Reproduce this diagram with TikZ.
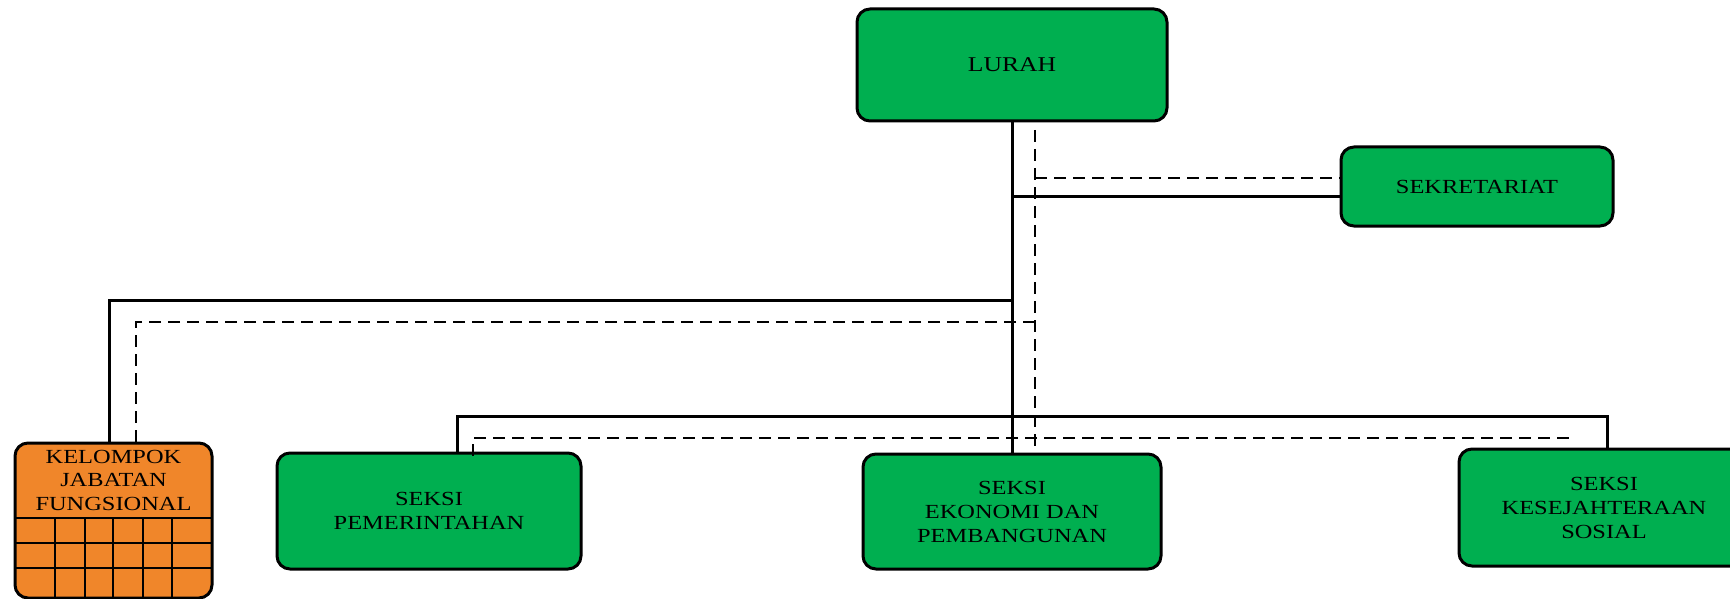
\documentclass[tikz,border=0pt]{standalone}
\usepackage{fontspec}
\setmainfont{Liberation Serif}[FakeStretch=1.22]
\definecolor{boxgreen}{RGB}{0,175,80}
\definecolor{boxorange}{RGB}{240,134,42}
\tikzset{
  unitbox/.style={draw=black, line width=3pt, rounded corners=13pt, fill=boxgreen,
    align=center, inner sep=0pt, font=\fontsize{20}{24}\selectfont},
  conn/.style={line width=3pt},
  dconn/.style={line width=2pt, dash pattern=on 12pt off 7pt},
  gridline/.style={line width=2.5pt}
}
\begin{document}
\begin{tikzpicture}[x=1pt,y=-1pt]
\clip (0,0) rectangle (1730,599);
\fill[white] (0,0) rectangle (1730,599);

% boxes
\node[unitbox, minimum width=310pt, minimum height=112pt, font=\fontsize{21}{25}\selectfont] (lurah) at (1012,65) {LURAH};
\node[unitbox, minimum width=272pt, minimum height=79pt] (sek) at (1477,186.5) {SEKRETARIAT};
\node[unitbox, minimum width=304pt, minimum height=116pt] (pem) at (429,511) {SEKSI\\PEMERINTAHAN};
\node[unitbox, minimum width=298pt, minimum height=115pt] (eko) at (1012,511.5) {SEKSI\\EKONOMI DAN\\PEMBANGUNAN};
\node[unitbox, minimum width=290pt, minimum height=117pt] (kes) at (1604,507.5) {SEKSI\\KESEJAHTERAAN\\SOSIAL};

% kelompok jabatan fungsional
\node[unitbox, fill=boxorange, minimum width=197pt, minimum height=155pt] (kjf) at (113.5,520.5) {};
\foreach \yy in {518,543,568} \draw[gridline] (15,\yy) -- (212,\yy);
\foreach \xx in {55,85,113,143,172} \draw[gridline] (\xx,518) -- (\xx,598);
\node[align=center, inner sep=0pt, font=\fontsize{20}{23.5}\selectfont] (kjftext) at (113.5,480) {KELOMPOK\\JABATAN\\FUNGSIONAL};

% coordinates
\coordinate (jS) at (1012,196);
\coordinate (jK) at (1012,300);
\coordinate (kjfS) at (109,443);
\coordinate (pemS) at (457,453);
\coordinate (barL) at (457,416);
\coordinate (barR) at (1607,416);
\coordinate (kesS) at (1607,449);
\coordinate (dTop) at (1035,130);
\coordinate (dEko) at (1035,454);
\coordinate (dS) at (1035,178);
\coordinate (dK) at (1035,322);
\coordinate (kjfD) at (136,443);
\coordinate (pemD) at (473,456);
\coordinate (dbarL) at (473,438);
\coordinate (dbarR) at (1570,438);
\coordinate (kesD) at (1570,442);

% solid connectors
\draw[conn] (lurah.south) -- (eko.north);
\draw[conn] (jS) -- (jS -| sek.west);
\draw[conn] (jK) -| (kjfS);
\draw[conn] (pemS) -- (barL) -- (barR) -- (kesS);

% dashed connectors
\draw[dconn] (dTop) -- (dEko);
\draw[dconn] (dS) -- (dS -| sek.west);
\draw[dconn] (dK) -| (kjfD);
\draw[dconn] (pemD) -- (dbarL) -- (dbarR) -- (kesD);
\end{tikzpicture}
\end{document}
